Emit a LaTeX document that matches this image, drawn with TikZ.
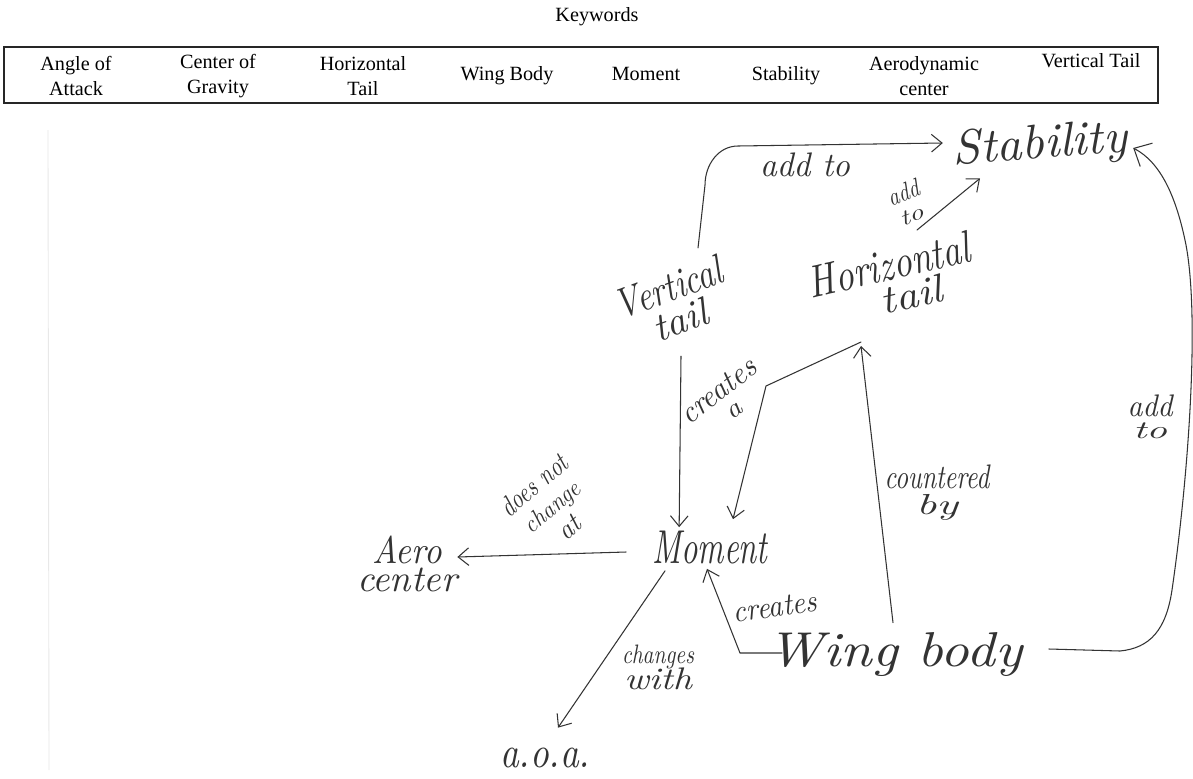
\documentclass[tikz,border=0pt]{standalone}
\usepackage{fontspec}
\usepackage{graphicx}
\setmainfont{Liberation Serif}
\newfontfamily\handfont{Latin Modern Roman}
\usetikzlibrary{arrows.meta,calc}
\newlength\pxu
\setlength\pxu{0.02cm}
% handwritten word, stretched to a given width and total height (in px units)
\newcommand\hwt[3]{\resizebox*{#1\pxu}{#2\pxu}{\handfont\itshape #3}}
\definecolor{ink}{HTML}{333333}
\tikzset{
  kwcell/.style={align=center,font=\fontsize{11.5}{13.8}\selectfont,inner sep=0pt},
  concept/.style={inner sep=0pt,text=ink,align=center},
  lbl/.style={inner sep=0pt,text=ink,align=center},
  link/.style={draw=ink,line width=0.6pt,line cap=round,line join=round},
  arr/.style={link,-{Straight Barb[length=6pt,width=10pt,line width=0.6pt]}},
  bigarr/.style={link,-{Straight Barb[length=8pt,width=15pt,line width=0.6pt]}}
}
\begin{document}
\begin{tikzpicture}[x=0.02cm,y=-0.02cm]
\useasboundingbox (0,0) rectangle (1193,778);
\fill[white] (0,0) rectangle (1193,778);

% faint ruling along the left margin of the sheet
\draw[black!9,line width=0.5pt] (48,130) -- (49,770);

% keyword list
\node[kwcell] (kw) at (597,17) {Keywords};
\draw[line width=1.3pt,black!85] (4,47) rectangle (1158,103);
\node[kwcell] (k1) at (76,76)  {Angle of\\Attack};
\node[kwcell] (k2) at (218,76) {Center of\\Gravity};
\node[kwcell] (k3) at (363,76) {Horizontal\\Tail};
\node[kwcell,anchor=base] (k4) at (507,80) {Wing Body};
\node[kwcell,anchor=base] (k5) at (646,80) {Moment};
\node[kwcell,anchor=base] (k6) at (786,80) {Stability};
\node[kwcell] (k7) at (924,76) {Aerodynamic\\center};
\node[kwcell,anchor=base] (k8) at (1091,67) {Vertical Tail};

% concepts
\node[concept] (stab) at (1040,146) {\rotatebox{4}{\hwt{175}{44}{Stability}}};
\node[concept] (vt) at (675,306) {\rotatebox{20}{\begin{tabular}{@{}c@{}}\hwt{112}{30}{Vertical}\\[0pt]\hwt{56}{28}{tail}\end{tabular}}};
\node[concept] (ht) at (893,283) {\rotatebox{13}{\begin{tabular}{@{}c@{}}\hwt{165}{32}{Horizontal}\\[-1pt]\hspace{30\pxu}\hwt{62}{28}{tail}\end{tabular}}};
\node[concept] (mom) at (710,548) {\hwt{115}{33}{Moment}};
\node[concept] (aero) at (407,567) {\begin{tabular}{@{}c@{}}\hwt{70}{28}{Aero}\\[-1pt]\hwt{100}{24}{center}\end{tabular}};
\node[concept] (wb) at (895,655) {\hwt{255}{44}{Wing body}};
\node[concept] (aoa) at (545,758) {\hwt{90}{20}{a.o.a.}};

% links
\draw[arr] ($(vt.north)+(23,-6)$) -- (705,185) to[out=90,in=180] (738,146) -- ($(stab.west)+(-8,-3)$);
\node[lbl] (l1) at (805,165) {\hwt{90}{24}{add to}};

\draw[arr] ($(ht.north)+(24,0)$) -- ($(stab.south)+(-60,4)$);
\node[lbl] (l2) at (908,206) {\rotatebox{20}{\begin{tabular}{@{}c@{}}\hwt{32}{18}{add}\\[1pt]\hwt{24}{14}{to}\end{tabular}}};

\draw[bigarr] ($(wb.east)+(26,-6)$) -- (1120,651)
  .. controls (1150,648) and (1166,630) .. (1172,590)
  .. controls (1188,480) and (1200,320) .. (1186,245)
  .. controls (1176,195) and (1160,162) .. ($(stab.east)+(4,2)$);
\node[lbl] (l3) at (1150,420) {\begin{tabular}{@{}c@{}}\hwt{45}{22}{add}\\[0pt]\hwt{34}{16}{to}\end{tabular}};

\draw[arr] ($(vt.south)+(6,-2)$) -- ($(mom.north west)+(27,-4)$);

\draw[arr] ($(ht.south)+(-32,6)$) -- (766,386) -- ($(mom.north)+(23,-12)$);
\node[lbl] (l4) at (727,402) {\rotatebox{38}{\begin{tabular}{@{}c@{}}\hwt{88}{20}{creates}\\[1pt]\hwt{15}{12}{a}\end{tabular}}};

\draw[arr] ($(wb.north)+(-2,-10)$) -- ($(ht.south)+(-32,10)$);
\node[lbl] (l5) at (937,493) {\begin{tabular}{@{}c@{}}\hwt{105}{24}{countered}\\[0pt]\hwt{42}{26}{by}\end{tabular}};

\draw[arr] ($(mom.west)+(-26,4)$) -- ($(aero.east)+(0,-10)$);
\node[lbl] (l6) at (553,508) {\rotatebox{40}{\begin{tabular}{@{}c@{}}\hwt{80}{20}{does not}\\[2pt]\hwt{66}{22}{change}\\[2pt]\hwt{22}{18}{at}\end{tabular}}};

\draw[arr] ($(mom.south)+(-45,6)$) -- ($(aoa.north)+(13,-20)$);
\node[lbl] (l7) at (658,670) {\begin{tabular}{@{}c@{}}\hwt{72}{24}{changes}\\[-1pt]\hwt{68}{22}{with}\end{tabular}};

\draw[arr] ($(wb.west)+(15,-2)$) -- (740,653) -- ($(mom.south)+(-3,4)$);
\node[lbl] (l8) at (775,607) {\rotatebox{8}{\hwt{84}{20}{creates}}};
\end{tikzpicture}
\end{document}
